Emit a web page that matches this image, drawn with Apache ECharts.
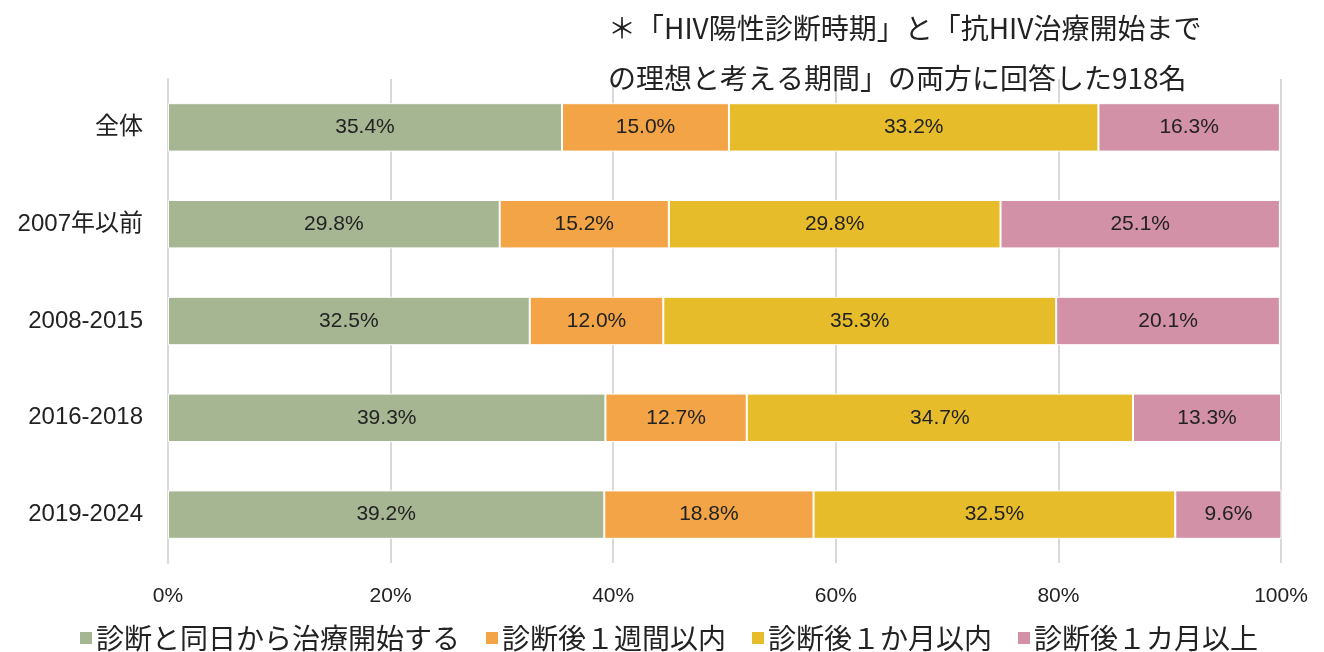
<!DOCTYPE html>
<html>
<head>
<meta charset="utf-8">
<script src="https://cdn.jsdelivr.net/npm/echarts@6/dist/echarts.min.js"></script>
<style>
  html, body { margin: 0; padding: 0; background: #fff; }
  #chart { width: 1324px; height: 652px; }
</style>
</head>
<body>
<div id="chart"></div>
<script>
const categories = ['全体', '2007年以前', '2008-2015', '2016-2018', '2019-2024']
const seriesNames = ['診断と同日から治療開始する', '診断後１週間以内', '診断後１か月以内', '診断後１カ月以上']
const sameDay   = [35.4, 29.8, 32.5, 39.3, 39.2]
const withinWk  = [15.0, 15.2, 12.0, 12.7, 18.8]
const withinMo  = [33.2, 29.8, 35.3, 34.7, 32.5]
const overMo    = [16.3, 25.1, 20.1, 13.3, 9.6]
const xTicks = [0, 20, 40, 60, 80, 100]
const titleLines = ['＊「HIV陽性診断時期」と「抗HIV治療開始まで', 'の理想と考える期間」の両方に回答した918名']

const COLORS = ['#A6B592', '#F2A446', '#E6BC2A', '#D291A6']
const FONT = '"Liberation Sans", Arial, "Noto Sans CJK JP", sans-serif'
const CJK = '"Noto Sans CJK JP", sans-serif'

const chart = echarts.init(document.getElementById('chart'))

const values = [sameDay, withinWk, withinMo, overMo]

chart.setOption({
  animation: false,
  color: COLORS,
  title: {
    text: titleLines.join('\n'),
    left: 608,
    top: 3,
    padding: 0,
    textStyle: { fontFamily: CJK, fontSize: 28, fontWeight: 'normal', color: '#222', lineHeight: 50 },
  },
  legend: {
    top: 624,
    left: 78,
    padding: 0,
    itemWidth: 14,
    itemHeight: 14,
    itemGap: 24,
    icon: 'rect',
    textStyle: { fontFamily: CJK, fontSize: 28, color: '#222', padding: [0, 0, 0, -2] },
  },
  grid: { left: 168, right: 43, top: 79, bottom: 89 },
  xAxis: {
    type: 'value',
    min: 0,
    max: 100,
    interval: 20,
    axisLine: { show: false },
    axisTick: { show: false },
    splitLine: { lineStyle: { color: '#d9d9d9', width: 2 } },
    axisLabel: {
      margin: 23,
      fontFamily: FONT,
      fontSize: 21,
      color: '#222',
      formatter: (v) => xTicks.includes(v) ? v + '%' : '',
    },
  },
  yAxis: {
    type: 'category',
    inverse: true,
    data: categories,
    axisLine: { lineStyle: { color: '#d9d9d9', width: 2 } },
    axisTick: { show: false },
    axisLabel: {
      margin: 25,
      fontFamily: FONT,
      fontSize: 24,
      color: '#222',
    },
  },
  series: seriesNames.map((name, i) => ({
    name,
    type: 'bar',
    stack: 'total',
    barWidth: '50%',
    data: values[i],
    itemStyle: { color: COLORS[i], borderColor: '#fff', borderWidth: 1 },
    label: {
      show: true,
      position: 'inside',
      fontFamily: FONT,
      fontSize: 21,
      color: '#222',
      formatter: (p) => p.value.toFixed(1) + '%',
    },
  })),
})
</script>
</body>
</html>
